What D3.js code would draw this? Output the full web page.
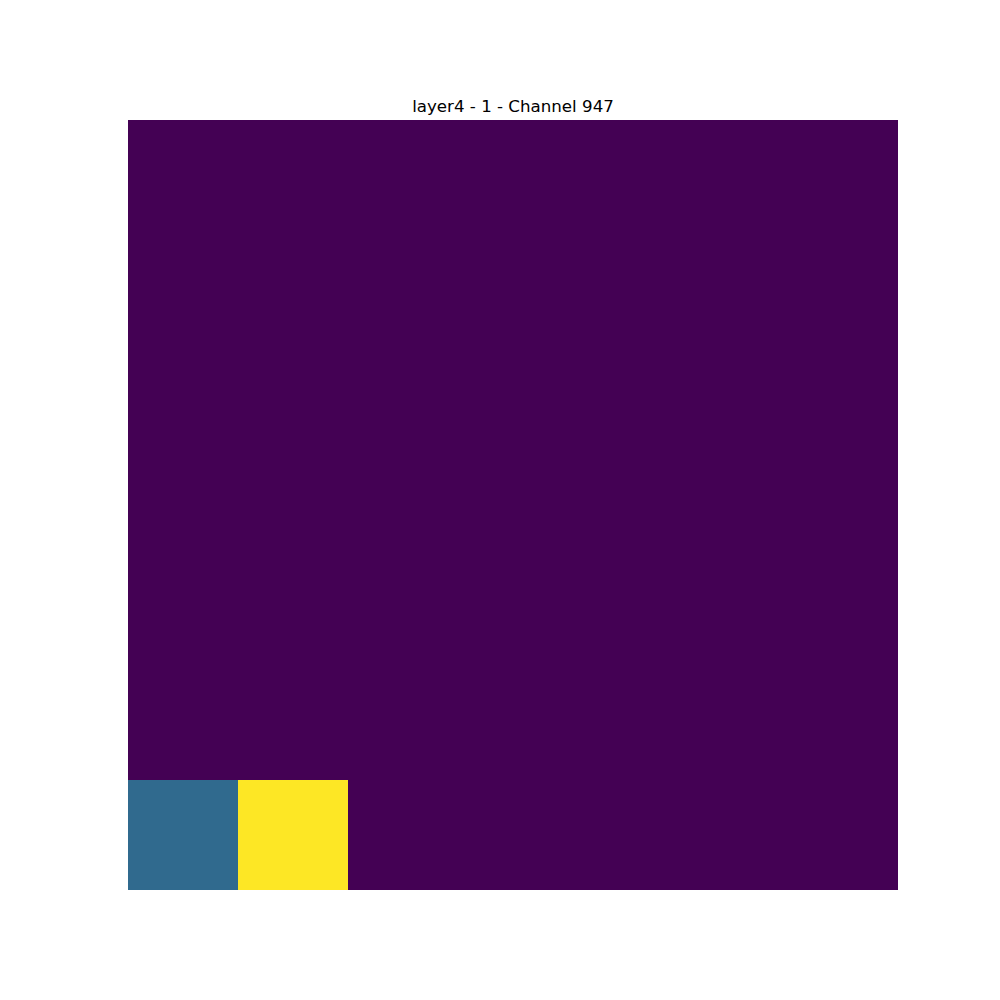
<!DOCTYPE html>
<html><head><meta charset="utf-8">
<script src="https://cdn.jsdelivr.net/npm/d3@7"></script>
<style>body{margin:0;background:#fff}svg{display:block}</style>
</head><body>
<script>
const title = "layer4 - 1 - Channel 947";
const rows = [0,1,2,3,4,5,6];
const cols = [0,1,2,3,4,5,6];
const values = [
  [0,0,0,0,0,0,0],
  [0,0,0,0,0,0,0],
  [0,0,0,0,0,0,0],
  [0,0,0,0,0,0,0],
  [0,0,0,0,0,0,0],
  [0,0,0,0,0,0,0],
  [0.34,1,0,0,0,0,0]
];
const W = 1000, H = 1000;
const svg = d3.select("body").append("svg").attr("width", W).attr("height", H);
const x = d3.scaleBand().domain(cols).range([128, 898]);
const y = d3.scaleBand().domain(rows).range([120, 890]);
const flat = values.flat();
const color = d3.scaleSequential(d3.interpolateViridis).domain([d3.min(flat), d3.max(flat)]);
const cells = [];
values.forEach((r, i) => r.forEach((v, j) => cells.push({i, j, v})));
svg.append("g").attr("shape-rendering", "crispEdges").selectAll("rect").data(cells).join("rect")
  .attr("x", d => x(d.j)).attr("y", d => y(d.i))
  .attr("width", x.bandwidth()).attr("height", y.bandwidth())
  .attr("fill", d => color(d.v));
svg.append("text").attr("x", 513).attr("y", 112).attr("text-anchor", "middle")
  .attr("font-family", "DejaVu Sans").attr("font-size", 16.67).attr("fill", "#000")
  .text(title);
</script>
</body></html>
